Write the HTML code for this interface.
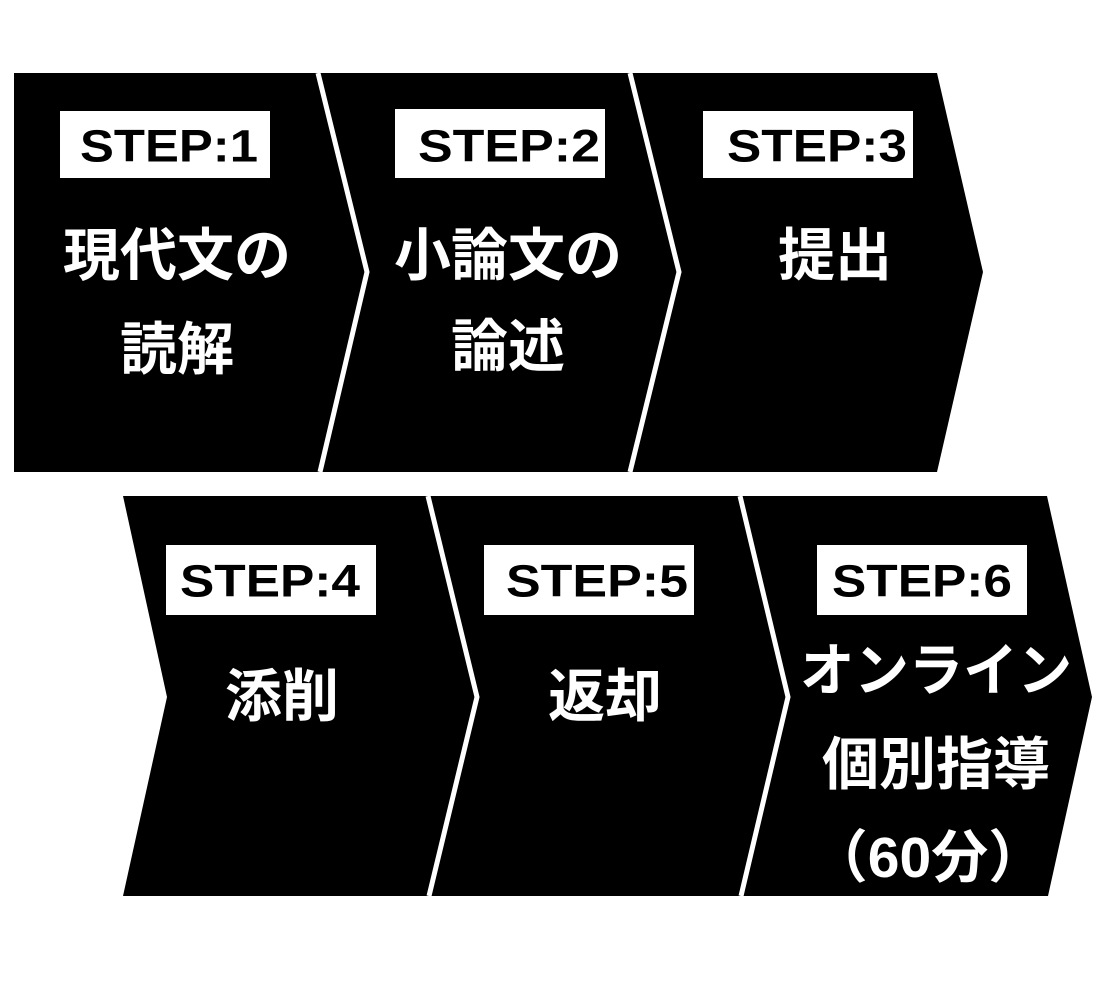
<!DOCTYPE html>
<html><head><meta charset="utf-8"><style>
html,body{margin:0;padding:0;background:#fff;}
svg{display:block;}
.s{font-family:"Liberation Sans",Arial,sans-serif;font-weight:bold;font-size:45px;fill:#000;}
.j{font-family:"Liberation Sans","Noto Sans CJK JP",sans-serif;font-weight:bold;font-size:57px;fill:#fff;}
</style></head><body>
<svg width="1100" height="1000" viewBox="0 0 1100 1000" xmlns="http://www.w3.org/2000/svg">
<rect width="1100" height="1000" fill="#fff"/>
<polygon points="14,73 937,73 983,272 937,472 14,472" fill="#000"/>
<polyline points="318,73 367,272 320,472" fill="none" stroke="#fff" stroke-width="5"/>
<polyline points="630,73 679,272 630,472" fill="none" stroke="#fff" stroke-width="5"/>
<polygon points="123,496 1047,496 1092,697 1048,896 123,896 167,697" fill="#000"/>
<polyline points="428,496 477,697 429,896" fill="none" stroke="#fff" stroke-width="5"/>
<polyline points="740,496 788,697 741,896" fill="none" stroke="#fff" stroke-width="5"/>
<rect x="60" y="111" width="210" height="67" fill="#fff"/>
<rect x="395" y="109" width="210" height="69" fill="#fff"/>
<rect x="703" y="111" width="210" height="67" fill="#fff"/>
<rect x="166" y="545" width="210" height="70" fill="#fff"/>
<rect x="484" y="545" width="210" height="70" fill="#fff"/>
<rect x="817" y="545" width="210" height="70" fill="#fff"/>
<g class="s" text-anchor="middle" dominant-baseline="central">
<text x="169" y="146" textLength="178" lengthAdjust="spacingAndGlyphs">STEP:1</text>
<text x="509" y="146" textLength="182" lengthAdjust="spacingAndGlyphs">STEP:2</text>
<text x="817" y="146" textLength="180" lengthAdjust="spacingAndGlyphs">STEP:3</text>
<text x="270" y="581" textLength="180" lengthAdjust="spacingAndGlyphs">STEP:4</text>
<text x="597" y="581" textLength="182" lengthAdjust="spacingAndGlyphs">STEP:5</text>
<text x="922" y="581" textLength="180" lengthAdjust="spacingAndGlyphs">STEP:6</text>
</g>
<g class="j" text-anchor="middle" dominant-baseline="central">
<text x="177" y="256">現代文の</text>
<text x="177" y="350">読解</text>
<text x="508" y="256">小論文の</text>
<text x="508" y="347">論述</text>
<text x="835" y="256">提出</text>
<text x="282" y="697">添削</text>
<text x="605" y="697">返却</text>
<text x="936" y="671" textLength="272" lengthAdjust="spacingAndGlyphs">オンライン</text>
<text x="936" y="765">個別指導</text>
<text x="928" y="858">（60分）</text>
</g>
</svg>
</body></html>
